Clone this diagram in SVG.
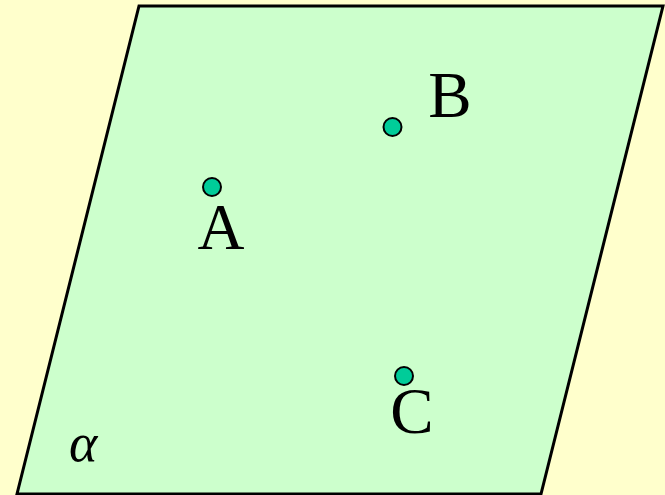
<svg xmlns="http://www.w3.org/2000/svg" width="665" height="495" viewBox="0 0 665 495">
<style>
.lbl{font-family:"Liberation Serif","Times New Roman",serif;font-size:65px;fill:#000}
.pt{fill:#00CC99;stroke:#000;stroke-width:2}
</style>
<rect x="0" y="0" width="665" height="495" fill="#FFFFCC"/>
<g id="plane">
<polygon points="139,6 663,6 541,494 17,494" fill="#CCFFCC" stroke="#000" stroke-width="3" stroke-linejoin="miter"/>
<text x="69" y="461" font-family="Liberation Serif,serif" font-style="italic" font-size="54" fill="#000">α</text>
</g>
<g id="A">
<circle class="pt" cx="212" cy="187" r="9"/>
<text class="lbl" x="221" y="249" text-anchor="middle">A</text>
</g>
<g id="B">
<circle class="pt" cx="392.5" cy="127" r="9"/>
<text class="lbl" x="450" y="117" text-anchor="middle">B</text>
</g>
<g id="C">
<circle class="pt" cx="404" cy="376" r="9"/>
<text class="lbl" x="412" y="433" text-anchor="middle">C</text>
</g>
<g id="connectors"></g>
</svg>
